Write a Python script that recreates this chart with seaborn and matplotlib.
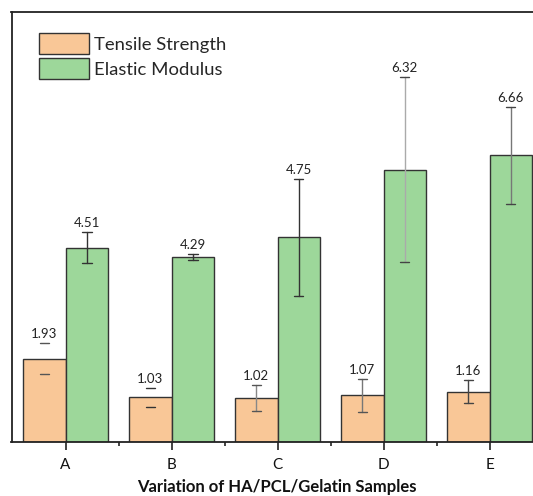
import matplotlib
matplotlib.use("Agg")
import matplotlib.pyplot as plt
import seaborn as sns
import pandas as pd
import numpy as np

samples = ["A", "B", "C", "D", "E"]
tensile = [1.93, 1.03, 1.02, 1.07, 1.16]
tensile_err = [0.35, 0.22, 0.30, 0.38, 0.26]
modulus = [4.51, 4.29, 4.75, 6.32, 6.66]
modulus_err = [0.36, 0.06, 1.36, 2.15, 1.13]
series = ["Tensile Strength", "Elastic Modulus"]

sns.set_theme(style="white")
plt.rcParams["font.family"] = ["Lato", "DejaVu Sans"]

df = pd.DataFrame({
    "Sample": samples * 2,
    "Series": [series[0]] * 5 + [series[1]] * 5,
    "Value": tensile + modulus,
})

colors = {"Tensile Strength": "#F9C797", "Elastic Modulus": "#9DD79A"}
edge = "#333333"

fig = plt.figure(figsize=(5.33, 4.96), dpi=100)
ax = fig.add_axes([11.5 / 533, 1 - 441.5 / 496, 531 / 533, 430 / 496])

sns.barplot(data=df, x="Sample", y="Value", hue="Series", palette=colors,
            order=samples, hue_order=series, width=0.8, errorbar=None,
            saturation=1, edgecolor=edge, linewidth=1.0, ax=ax)

# error bars + labels
stem_colors_t = ["none", "none", "#888888", "#777777", "#444444"]
stem_colors_m = ["#333333", "#333333", "#333333", "#AAAAAA", "#777777"]
cap_colors_t = ["#555555", "#333333", "#555555", "#555555", "#444444"]
cap_colors_m = ["#333333", "#333333", "#333333", "#444444", "#444444"]

for i in range(len(samples)):
    for vals, errs, off, sc, cc in [(tensile, tensile_err, -0.2, stem_colors_t, cap_colors_t),
                                    (modulus, modulus_err, 0.2, stem_colors_m, cap_colors_m)]:
        x = i + off
        v, e = vals[i], errs[i]
        ax.plot([x, x], [v - e, v + e], color=sc[i], lw=1.0, zorder=3)
        ax.plot([x - 0.045, x + 0.045], [v + e, v + e], color=cc[i], lw=1.0, zorder=3)
        ax.plot([x - 0.045, x + 0.045], [v - e, v - e], color=cc[i], lw=1.0, zorder=3)
        ax.text(x, v + e + 0.07, f"{v:.2f}", ha="center", va="bottom",
                fontsize=9.5, color="#222222")

ax.set_ylim(0, 10)
ax.set_xlim(-0.51, 4.5)
ax.set_yticks([])
ax.set_ylabel("")
ax.set_xlabel("Variation of HA/PCL/Gelatin Samples", fontsize=12,
              fontweight="bold", color="#111111", labelpad=5)
ax.set_xticks(range(len(samples)))
ax.set_xticklabels(samples, fontsize=11, color="#111111")
ax.set_xticks(np.arange(len(samples) - 1) + 0.5, minor=True)
ax.tick_params(axis="x", which="major", direction="out", length=6, width=1.2,
               color="#222222", bottom=True, pad=6)
ax.tick_params(axis="x", which="minor", direction="out", length=3, width=1.2,
               color="#222222", bottom=True)
for s in ax.spines.values():
    s.set_color("#222222")
    s.set_linewidth(1.3)

handles, labels = ax.get_legend_handles_labels()
ax.legend(handles, labels, loc="upper left",
          bbox_to_anchor=(39 / 533, 1 - 33 / 496), bbox_transform=fig.transFigure,
          frameon=False, fontsize=13.3, handlelength=2.7, handleheight=1.35,
          labelspacing=0.25, borderpad=0, borderaxespad=0, handletextpad=0.3)

fig.savefig("out.png", dpi=100)
